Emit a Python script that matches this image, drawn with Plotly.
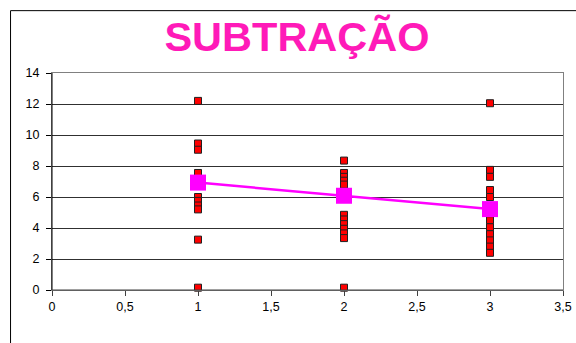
import plotly.graph_objects as go

# Data
x_cats = [1, 2, 3]
col1 = [12.2, 9.45, 9.05, 7.55, 6.0, 5.75, 5.45, 5.2, 3.25, 0.15]
col2 = [8.35, 7.55, 7.3, 7.05, 6.8, 4.85, 4.55, 4.25, 3.95, 3.65, 3.35, 0.15]
col3 = [12.05, 7.75, 7.3, 6.45, 6.0, 4.5, 4.05, 3.6, 3.2, 2.8, 2.4]
means = [6.93, 6.08, 5.22]
x_ticks = [0, 0.5, 1, 1.5, 2, 2.5, 3, 3.5]
x_tick_labels = ["0", "0,5", "1", "1,5", "2", "2,5", "3", "3,5"]
y_ticks = [0, 2, 4, 6, 8, 10, 12, 14]

pts_x = [x_cats[0]] * len(col1) + [x_cats[1]] * len(col2) + [x_cats[2]] * len(col3)
pts_y = col1 + col2 + col3

fig = go.Figure()
fig.add_trace(go.Scatter(
    x=pts_x, y=pts_y, mode="markers",
    marker=dict(symbol="square", size=7, color="#FF0000",
                line=dict(color="#202020", width=1)),
    showlegend=False, cliponaxis=False))
fig.add_trace(go.Scatter(
    x=x_cats, y=means, mode="lines+markers",
    line=dict(color="#FF00FF", width=2.5),
    marker=dict(symbol="square", size=16, color="#FF00FF"),
    showlegend=False, cliponaxis=False))

L, R, T, B = 51.5, 13, 72.5, 53
W, H = 576, 343
pw = W - L - R
ph = H - T - B

fig.update_layout(
    width=W, height=H,
    margin=dict(l=L, r=R, t=T, b=B, pad=0, autoexpand=False),
    paper_bgcolor="white", plot_bgcolor="white",
    font=dict(family="Liberation Sans, Arial, sans-serif", size=12.5, color="#000000"),
    title=dict(text="<b>SUBTRAÇÃO</b>", x=297 / W, xref="container", xanchor="center",
               y=1 - 36 / H, yref="container", yanchor="middle",
               font=dict(family="Liberation Sans, Arial, sans-serif", size=41.5, color="#FF1AB8")),
    xaxis=dict(range=[0, 3.5], tickvals=x_ticks, ticktext=x_tick_labels,
               showgrid=False, zeroline=False, automargin=False,
               showline=True, linecolor="#808080", linewidth=1, mirror=True,
               ticks="outside", ticklen=5, tickcolor="#404040",
               tickfont=dict(size=12.5, color="#000000")),
    yaxis=dict(range=[0, 14], tickvals=y_ticks,
               showgrid=True, gridcolor="#303030", gridwidth=1,
               zeroline=False, automargin=False,
               showline=True, linecolor="#808080", linewidth=1, mirror=True,
               ticks="outside", ticklen=5, tickcolor="#000000",
               ticklabelstandoff=4,
               tickfont=dict(size=12.5, color="#000000")),
    shapes=[
        dict(type="line", xref="paper", yref="paper", x0=0, x1=0, y0=0, y1=1,
             line=dict(color="#000000", width=1)),
        dict(type="line", xref="paper", yref="paper", x0=0, x1=1, y0=0, y1=0,
             line=dict(color="#404040", width=1)),
        dict(type="rect", xref="paper", yref="paper",
             x0=(10 - L) / pw, x1=(W + 20 - L) / pw,
             y0=(H - B - (H + 20)) / ph, y1=(H - B - 10) / ph,
             line=dict(color="#000000", width=1), layer="below"),
    ],
)

fig.write_html("out.html", config={"displayModeBar": False},
               post_script="document.body.style.margin='0';document.body.style.padding='0';")
